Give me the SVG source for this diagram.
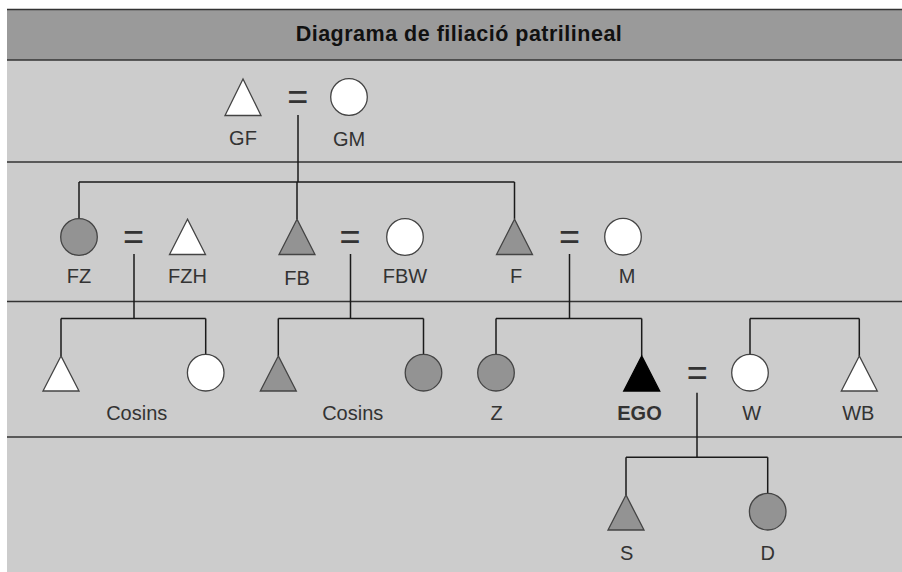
<svg xmlns="http://www.w3.org/2000/svg" width="902" height="572" viewBox="0 0 902 572">
<style>
.lbl{font-family:"Liberation Sans",Arial,sans-serif;font-size:20px;fill:#333;text-anchor:middle}
.eq{font-family:"Liberation Sans",Arial,sans-serif;font-size:36px;fill:#333;text-anchor:middle}
.ttl{font-family:"Liberation Sans",Arial,sans-serif;font-size:21.5px;font-weight:bold;fill:#111;text-anchor:middle;letter-spacing:0.5px}
.div{stroke:#333;stroke-width:1.6;fill:none}
.con{stroke:#1a1a1a;stroke-width:1.5;fill:none}
.w{fill:#fff;stroke:#444;stroke-width:1.3}
.g{fill:#939393;stroke:#444;stroke-width:1.3}
.b{fill:#000;stroke:#000;stroke-width:1.3}
</style>
<rect x="0" y="0" width="902" height="572" fill="#fff"/>
<rect x="7" y="9.5" width="895" height="50.5" fill="#9a9a9a"/>
<rect x="7" y="60" width="895" height="512" fill="#cccccc"/>
<line class="div" x1="7" y1="9.5" x2="902" y2="9.5" stroke-width="2"/>
<line class="div" x1="7" y1="60" x2="902" y2="60" stroke-width="2"/>
<line class="div" x1="7" y1="162" x2="902" y2="162"/>
<line class="div" x1="7" y1="301.5" x2="902" y2="301.5"/>
<line class="div" x1="7" y1="437" x2="902" y2="437"/>
<text class="ttl" x="459" y="41">Diagrama de filiació patrilineal</text>

<g id="connectors">
<path class="con" d="M298 115V182M79 182H514.5M79 182V218.7M297 182V219.3M514.5 182V219.3"/>
<path class="con" d="M134 254V318.5M61 318.5H205.7M61 318.5V356M205.7 318.5V354.4"/>
<path class="con" d="M350.5 254V318.5M278.3 318.5H423.5M278.3 318.5V356M423.5 318.5V354.4"/>
<path class="con" d="M569.5 254V318.5M496 318.5H641.7M496 318.5V354.4M641.7 318.5V356"/>
<path class="con" d="M750 318.5H859.3M750 318.5V354.4M859.3 318.5V356"/>
<path class="con" d="M697 392.7V457.3M626 457.3H767.7M626 457.3V495M767.7 457.3V493.4"/>
</g>

<g id="GF"><polygon class="w" points="243,79 225,115.5 261,115.5"/><text class="lbl" x="243" y="145">GF</text></g>
<g id="m-GF-GM"><text class="eq" x="297.7" y="109">=</text></g>
<g id="GM"><circle class="w" cx="349" cy="97" r="18.3"/><text class="lbl" x="349" y="145.5">GM</text></g>

<g id="FZ"><circle class="g" cx="79" cy="237" r="18.3"/><text class="lbl" x="79" y="283">FZ</text></g>
<g id="m-FZ-FZH"><text class="eq" x="133.5" y="249">=</text></g>
<g id="FZH"><polygon class="w" points="187.5,219.3 169.5,254.5 205.5,254.5"/><text class="lbl" x="187.5" y="283">FZH</text></g>
<g id="FB"><polygon class="g" points="297,219.3 279,254.5 315,254.5"/><text class="lbl" x="297" y="284.5">FB</text></g>
<g id="m-FB-FBW"><text class="eq" x="350" y="249">=</text></g>
<g id="FBW"><circle class="w" cx="405" cy="237" r="18.3"/><text class="lbl" x="405" y="283">FBW</text></g>
<g id="F"><polygon class="g" points="514.5,219.3 496.5,254.5 532.5,254.5"/><text class="lbl" x="516" y="283">F</text></g>
<g id="m-F-M"><text class="eq" x="569.5" y="249">=</text></g>
<g id="M"><circle class="w" cx="623" cy="236.7" r="18.3"/><text class="lbl" x="627" y="283">M</text></g>

<g id="cosi1"><polygon class="w" points="61,356 43,391 79,391"/></g>
<g id="cosina1"><circle class="w" cx="205.7" cy="372.7" r="18.3"/></g>
<g id="cosins1"><text class="lbl" x="136.7" y="420">Cosins</text></g>
<g id="cosi2"><polygon class="g" points="278.3,356 260.3,391 296.3,391"/></g>
<g id="cosina2"><circle class="g" cx="423.5" cy="372.7" r="18.3"/></g>
<g id="cosins2"><text class="lbl" x="352.7" y="420">Cosins</text></g>
<g id="Z"><circle class="g" cx="496" cy="372.7" r="18.3"/><text class="lbl" x="496.7" y="420">Z</text></g>
<g id="EGO"><polygon class="b" points="641.7,356 623.7,391 659.7,391"/><text class="lbl" x="639.5" y="420" font-weight="bold" fill="#111">EGO</text></g>
<g id="m-EGO-W"><text class="eq" x="697.3" y="385">=</text></g>
<g id="W"><circle class="w" cx="750" cy="372.7" r="18.3"/><text class="lbl" x="751.7" y="420">W</text></g>
<g id="WB"><polygon class="w" points="859.3,356 841.3,391 877.3,391"/><text class="lbl" x="858.3" y="420">WB</text></g>

<g id="S"><polygon class="g" points="626,495 608,530 644,530"/><text class="lbl" x="626.7" y="560">S</text></g>
<g id="D"><circle class="g" cx="767.7" cy="511.7" r="18.3"/><text class="lbl" x="767.7" y="560">D</text></g>
</svg>
